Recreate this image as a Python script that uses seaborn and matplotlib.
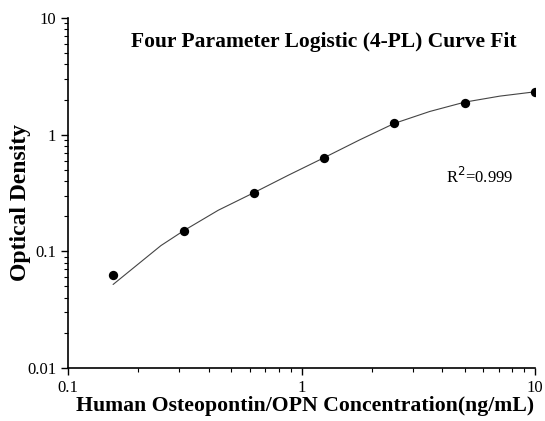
import numpy as np
import pandas as pd
import matplotlib
matplotlib.use("Agg")
import matplotlib.pyplot as plt
import seaborn as sns

# standard points (concentration ng/mL, OD)
conc = [0.156, 0.3125, 0.625, 1.25, 2.5, 5, 10]
od = [0.063, 0.148, 0.318, 0.627, 1.25, 1.87, 2.30]

# fitted curve
fit_conc = [0.156, 0.25, 0.3125, 0.44, 0.625, 0.88, 1.25, 1.77, 2.5, 3.54, 5, 7.07, 10]
fit_od = [0.052, 0.112, 0.150, 0.225, 0.318, 0.45, 0.635, 0.90, 1.25, 1.58, 1.90, 2.14, 2.33]

title = "Four Parameter Logistic (4-PL) Curve Fit"
xlab = "Human Osteopontin/OPN Concentration(ng/mL)"
ylab = "Optical Density"

pts = pd.DataFrame({"conc": conc, "od": od})
fit = pd.DataFrame({"conc": fit_conc, "od": fit_od})

sns.set_style("ticks")
plt.rcParams['font.family'] = ['Liberation Serif', 'DejaVu Serif']
plt.rcParams['text.color'] = 'black'
plt.rcParams['axes.labelcolor'] = 'black'

fig = plt.figure(figsize=(5.45, 4.21), dpi=100)
ax = fig.add_axes([68 / 545, 53 / 421, (535 - 68) / 545, (368 - 18) / 421])

sns.lineplot(data=fit, x="conc", y="od", color="#444444", linewidth=0.8, ax=ax, sort=False)
sns.scatterplot(data=pts, x="conc", y="od", color="black", s=45, edgecolor="black", linewidth=0, ax=ax, zorder=3)

ax.set_xscale("log")
ax.set_yscale("log")
ax.set_xlim(0.1, 10)
ax.set_ylim(0.01, 10)
ax.set_xticks([0.1, 1, 10])
ax.set_xticklabels(["0.1", "1", "10"])
ax.set_yticks([0.01, 0.1, 1, 10])
ax.set_yticklabels(["0.01", "0.1", "1", "10"])

ax.tick_params(axis="both", which="major", direction="out", length=5, width=1, labelsize=12, colors="black")
ax.tick_params(axis="both", which="minor", direction="out", length=3, width=0.8, colors="black")

for s in ["top", "right"]:
    ax.spines[s].set_visible(False)
for s in ["left", "bottom"]:
    ax.spines[s].set_color("black")
    ax.spines[s].set_linewidth(1.2)

ax.set_xlabel(xlab, fontsize=15.7, fontweight="bold", va="center")
ax.set_ylabel(ylab, fontsize=17, fontweight="bold", va="center")
ax.xaxis.set_label_coords((305 - 68) / 467, -(406 - 368) / 350)
ax.yaxis.set_label_coords((21 - 68) / 467, (368 - 202) / 350)

ax.text((324 - 68) / 467, 0.93, title, transform=ax.transAxes, ha="center", va="center",
        fontsize=15.5, fontweight="bold")
ax.text((480 - 68) / 467, 0.545, "R$^2$=0.999", transform=ax.transAxes, ha="center", va="center",
        fontsize=12)

fig.savefig("out.png", dpi=100)
